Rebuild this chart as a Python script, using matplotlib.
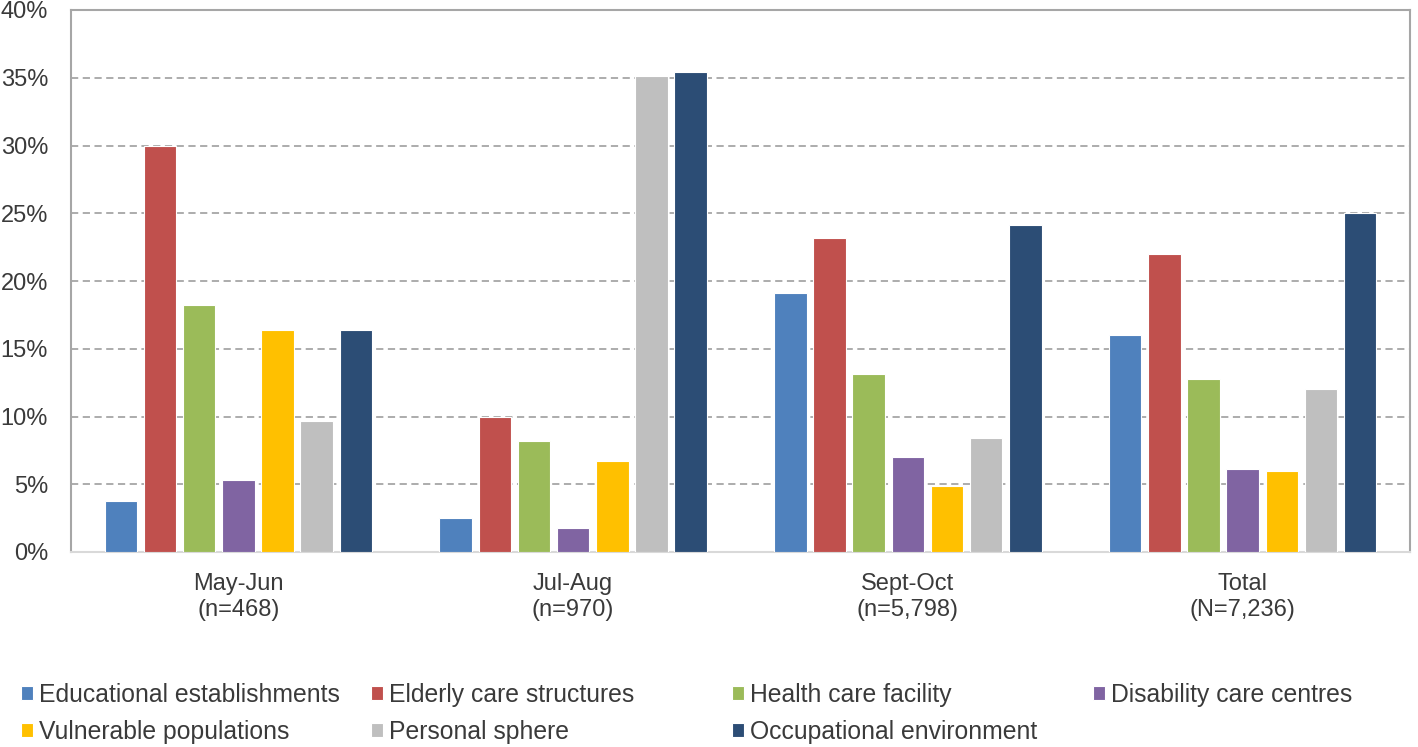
import numpy as np
import matplotlib.pyplot as plt
from matplotlib.ticker import PercentFormatter

# --- datos ---
periodos = ['May-Jun\n(n=468)', 'Jul-Aug\n(n=970)', 'Sept-Oct\n(n=5,798)', 'Total\n(N=7,236)']
categorias = ['Educational establishments', 'Elderly care structures', 'Health care facility',
              'Disability care centres', 'Vulnerable populations', 'Personal sphere',
              'Occupational environment']
colores = ['#4F81BD', '#C0504D', '#9BBB59', '#8064A2', '#FFC000', '#BFBFBF', '#2C4D75']

educational = [3.8, 2.5, 19.1, 16.0]
elderly = [30.0, 10.0, 23.2, 22.0]
health = [18.2, 8.2, 13.1, 12.8]
disability = [5.3, 1.75, 7.0, 6.1]
vulnerable = [16.4, 6.7, 4.9, 6.0]
personal = [9.7, 35.1, 8.4, 12.0]
occupational = [16.4, 35.4, 24.1, 25.0]
series = [educational, elderly, health, disability, vulnerable, personal, occupational]

plt.rcParams['font.family'] = ['Liberation Sans', 'DejaVu Sans']
texto = '#3A3A3A'

fig = plt.figure(figsize=(14.18, 7.47), dpi=100)
ax = fig.add_axes([71 / 1418, 1 - 552 / 747, 1339 / 1418, 542 / 747])

x = np.arange(len(periodos))
paso = 0.117
ancho = 0.097
handles = []
for i, (vals, col) in enumerate(zip(series, colores)):
    off = (i - 3) * paso
    b = ax.bar(x + off, vals, ancho, color=col, edgecolor='white', linewidth=0.8,
               label=categorias[i], zorder=3)
    handles.append(b)

ax.set_xlim(-0.5, 3.5)
ax.set_ylim(0, 40)
ax.set_yticks(np.arange(0, 41, 5))
ax.yaxis.set_major_formatter(PercentFormatter(decimals=0))
ax.set_xticks(x)
ax.set_xticklabels(periodos, fontsize=17, color=texto, linespacing=1.24)
ax.tick_params(axis='y', length=0, labelsize=17, labelcolor=texto, pad=16.5)
ax.tick_params(axis='x', length=0, pad=15)

ax.yaxis.grid(True, linestyle=(0, (4, 2.5)), color='#A6A6A6', linewidth=1.3, zorder=0)
for s in ['left', 'top', 'right']:
    ax.spines[s].set_color('#A6A6A6')
    ax.spines[s].set_linewidth(1.5)
ax.spines['bottom'].set_color('#D9D9D9')
ax.spines['bottom'].set_linewidth(1.5)

# leyenda en 4 columnas de igual ancho (como Excel)
columnas = [[0, 4], [1, 5], [2, 6], [3]]
x_col = [21, 371, 732, 1093]
for idx, xc in zip(columnas, x_col):
    leg = fig.legend([handles[k] for k in idx], [categorias[k] for k in idx],
                     loc='upper left', bbox_to_anchor=(xc / 1418, 1 - 683 / 747),
                     frameon=False, fontsize=17.8, handlelength=0.48, handleheight=0.48,
                     handletextpad=0.24, labelspacing=0.52, borderpad=0, borderaxespad=0)
    for t in leg.get_texts():
        t.set_color(texto)

fig.savefig('out.png', dpi=100)
